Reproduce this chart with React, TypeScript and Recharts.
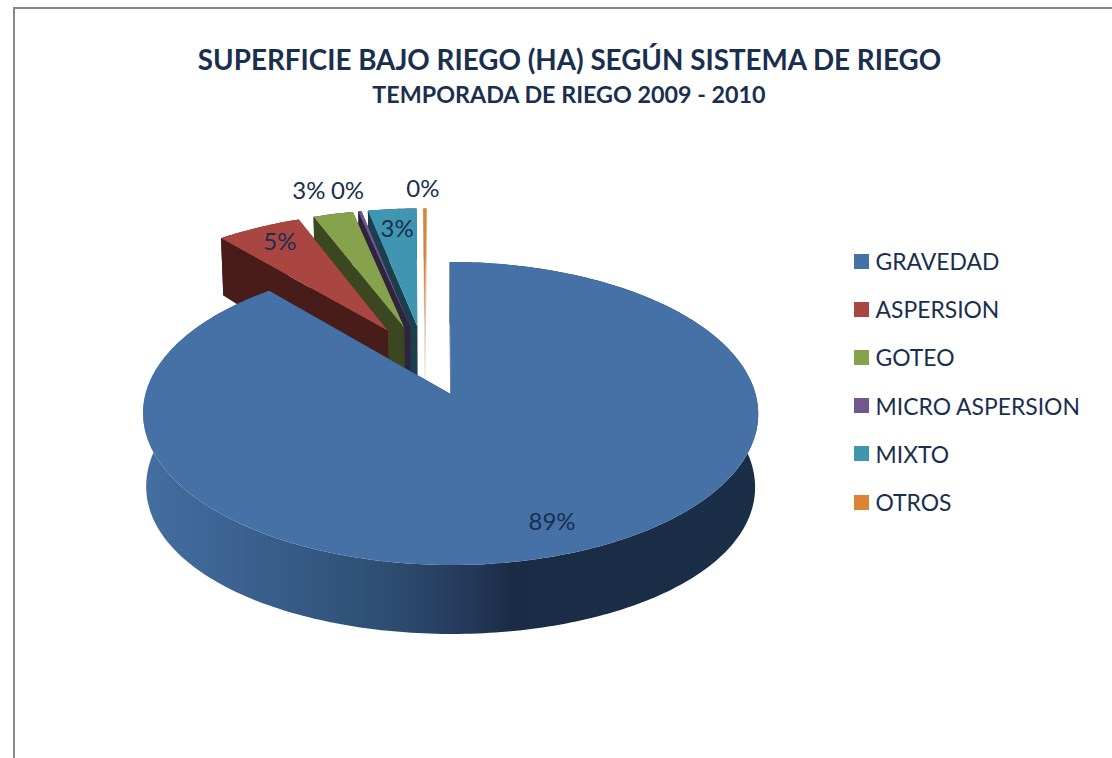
import React from "react";
import { PieChart, Pie, Legend } from "recharts";

const titleText = "SUPERFICIE BAJO RIEGO (HA) SEGÚN SISTEMA DE RIEGO";
const subtitleText = "TEMPORADA DE RIEGO 2009 - 2010";
const categories = ["GRAVEDAD", "ASPERSION", "GOTEO", "MICRO ASPERSION", "MIXTO", "OTROS"];
const shares = [88.73, 5.3, 2.51, 0.2, 3.04, 0.22];

const topColors = ["#4571A7", "#A94642", "#87A24C", "#72578F", "#4096B0", "#DC8336"];
const wallColors = ["url(#blueWall)", "#481C18", "#3B4720", "#2E2440", "#1B3F4C", "#D8CABC"];
const labelRadii = [0.82, 0.85, 1.26, 1.22, 0.83, 1.2];
const labelTurns = [1, -1, 1.5, 0.5, -0.3, 0.4];

const INK = "#1A2F4E";
const FONT = "Lato, Carlito, sans-serif";

// Reversed and drawn anticlockwise so that the large slice paints last, over the others.
const pieData = categories.map((name, i) => ({ name, value: shares[i] })).reverse();

const RY = 149 / 305;
const PERSPECTIVE = 0.129;
const SKEW = 0.003;
const EXPLODE = 0.25;
const HUB = [-0.085, -0.235];
const BOTTOM_SHRINK = 0.99;

const dirOf = (a: number) => {
  const r = (a * Math.PI) / 180;
  return [Math.cos(r), -Math.sin(r)];
};

const depthAt = (v: number) => 73 + 3.67 * v - 7.67 * v * v;

const project = (u: number, v: number, cx: number, cy: number, R: number) => {
  const den = 1 - PERSPECTIVE * v;
  return [cx + (R * (u + SKEW * v)) / den, cy + (R * RY * v) / den];
};

const projectBottom = (u: number, v: number, cx: number, cy: number, R: number) => {
  const [x, y] = project(u, v, cx, cy, R);
  return [cx + (x - cx) * BOTTOM_SHRINK, y + depthAt(v)];
};

const apexOf = (mid: number) => {
  const d = dirOf(mid);
  return [HUB[0] + EXPLODE * d[0], HUB[1] + EXPLODE * d[1]];
};

const toPath = (pts: number[][]) =>
  "M" + pts.map((p) => `${p[0].toFixed(2)},${p[1].toFixed(2)}`).join("L") + "Z";

function SliceShape(props: any) {
  const { cx, cy, outerRadius: R, startAngle, endAngle, name } = props;
  const idx = categories.indexOf(name);
  const mid = (startAngle + endAngle) / 2;
  const [ax, ay] = apexOf(mid);
  const steps = Math.max(2, Math.ceil(Math.abs(endAngle - startAngle)));
  const rim: number[][] = [];
  for (let i = 0; i <= steps; i++) {
    const d = dirOf(startAngle + ((endAngle - startAngle) * i) / steps);
    rim.push([ax + d[0], ay + d[1]]);
  }
  const topRim = rim.map((p) => project(p[0], p[1], cx, cy, R));
  const botRim = rim.map((p) => projectBottom(p[0], p[1], cx, cy, R));
  const topApex = project(ax, ay, cx, cy, R);
  const botApex = projectBottom(ax, ay, cx, cy, R);
  const wall = wallColors[idx];
  const sideFill = idx === 0 ? "#1B2E48" : wall;
  return (
    <g>
      {idx === 0 && (
        <defs>
          <linearGradient id="blueWall" gradientUnits="userSpaceOnUse" x1={cx - R} x2={cx + R} y1={0} y2={0}>
            <stop offset="0" stopColor="#446EA1" />
            <stop offset="0.25" stopColor="#355A85" />
            <stop offset="0.41" stopColor="#2D4C70" />
            <stop offset="0.53" stopColor="#25395A" />
            <stop offset="0.6" stopColor="#1A2C45" />
            <stop offset="1" stopColor="#1B2E48" />
          </linearGradient>
        </defs>
      )}
      <path d={toPath([topApex, topRim[0], botRim[0], botApex])} fill={sideFill} />
      <path d={toPath([topApex, topRim[steps], botRim[steps], botApex])} fill={sideFill} />
      <path d={toPath([...topRim, ...botRim.slice().reverse()])} fill={wall} />
      <path d={toPath([topApex, ...topRim])} fill={topColors[idx]} />
    </g>
  );
}

function SliceLabel(props: any) {
  const { cx, cy, outerRadius: R, midAngle, percent, name } = props;
  const idx = categories.indexOf(name);
  const [ax, ay] = apexOf(midAngle);
  const d = dirOf(midAngle + labelTurns[idx]);
  const [x, y] = project(ax + d[0] * labelRadii[idx], ay + d[1] * labelRadii[idx], cx, cy, R);
  return (
    <text x={x} y={y} textAnchor="middle" dominantBaseline="central" fontFamily={FONT} fontSize={24} fill={INK}>
      {`${Math.round(percent * 100)}%`}
    </text>
  );
}

function LegendList() {
  return (
    <div style={{ fontFamily: FONT, fontSize: 22.9, color: INK }}>
      {categories.map((c, i) => (
        <div key={c} style={{ height: 48.2, display: "flex", alignItems: "center", whiteSpace: "nowrap" }}>
          <span style={{ width: 15, height: 15, background: topColors[i], marginRight: 6.5, flex: "none" }} />
          {c}
        </div>
      ))}
    </div>
  );
}

export default function App() {
  return (
    <div style={{ position: "absolute", left: 0, top: 0, width: 1112, height: 758, background: "#fff", overflow: "hidden" }}>
      <div
        style={{
          position: "absolute",
          left: 13,
          top: 7,
          width: 1099,
          height: 751,
          boxSizing: "border-box",
          borderTop: "2px solid #888",
          borderLeft: "2px solid #888",
        }}
      />
      <PieChart width={1112} height={758} margin={{ top: 0, right: 0, bottom: 0, left: 0 }} style={{ position: "absolute", left: 0, top: 0 }}>
        <text x={569.5} y={59.5} textAnchor="middle" dominantBaseline="central" fontFamily={FONT} fontWeight={700} fontSize={27.8} fill={INK}>
          {titleText}
        </text>
        <text x={569} y={94} textAnchor="middle" dominantBaseline="central" fontFamily={FONT} fontWeight={700} fontSize={23.3} fill={INK}>
          {subtitleText}
        </text>
        <Pie
          data={pieData}
          dataKey="value"
          nameKey="name"
          cx={450}
          cy={394}
          innerRadius={0}
          outerRadius={305}
          startAngle={90}
          endAngle={450}
          stroke="none"
          isAnimationActive={false}
          shape={SliceShape}
          label={SliceLabel}
          labelLine={false}
        />
        <Legend
          content={LegendList}
          layout="vertical"
          wrapperStyle={{ position: "absolute", left: 854, top: 237, width: 250, height: 290, bottom: "auto" }}
        />
      </PieChart>
    </div>
  );
}
